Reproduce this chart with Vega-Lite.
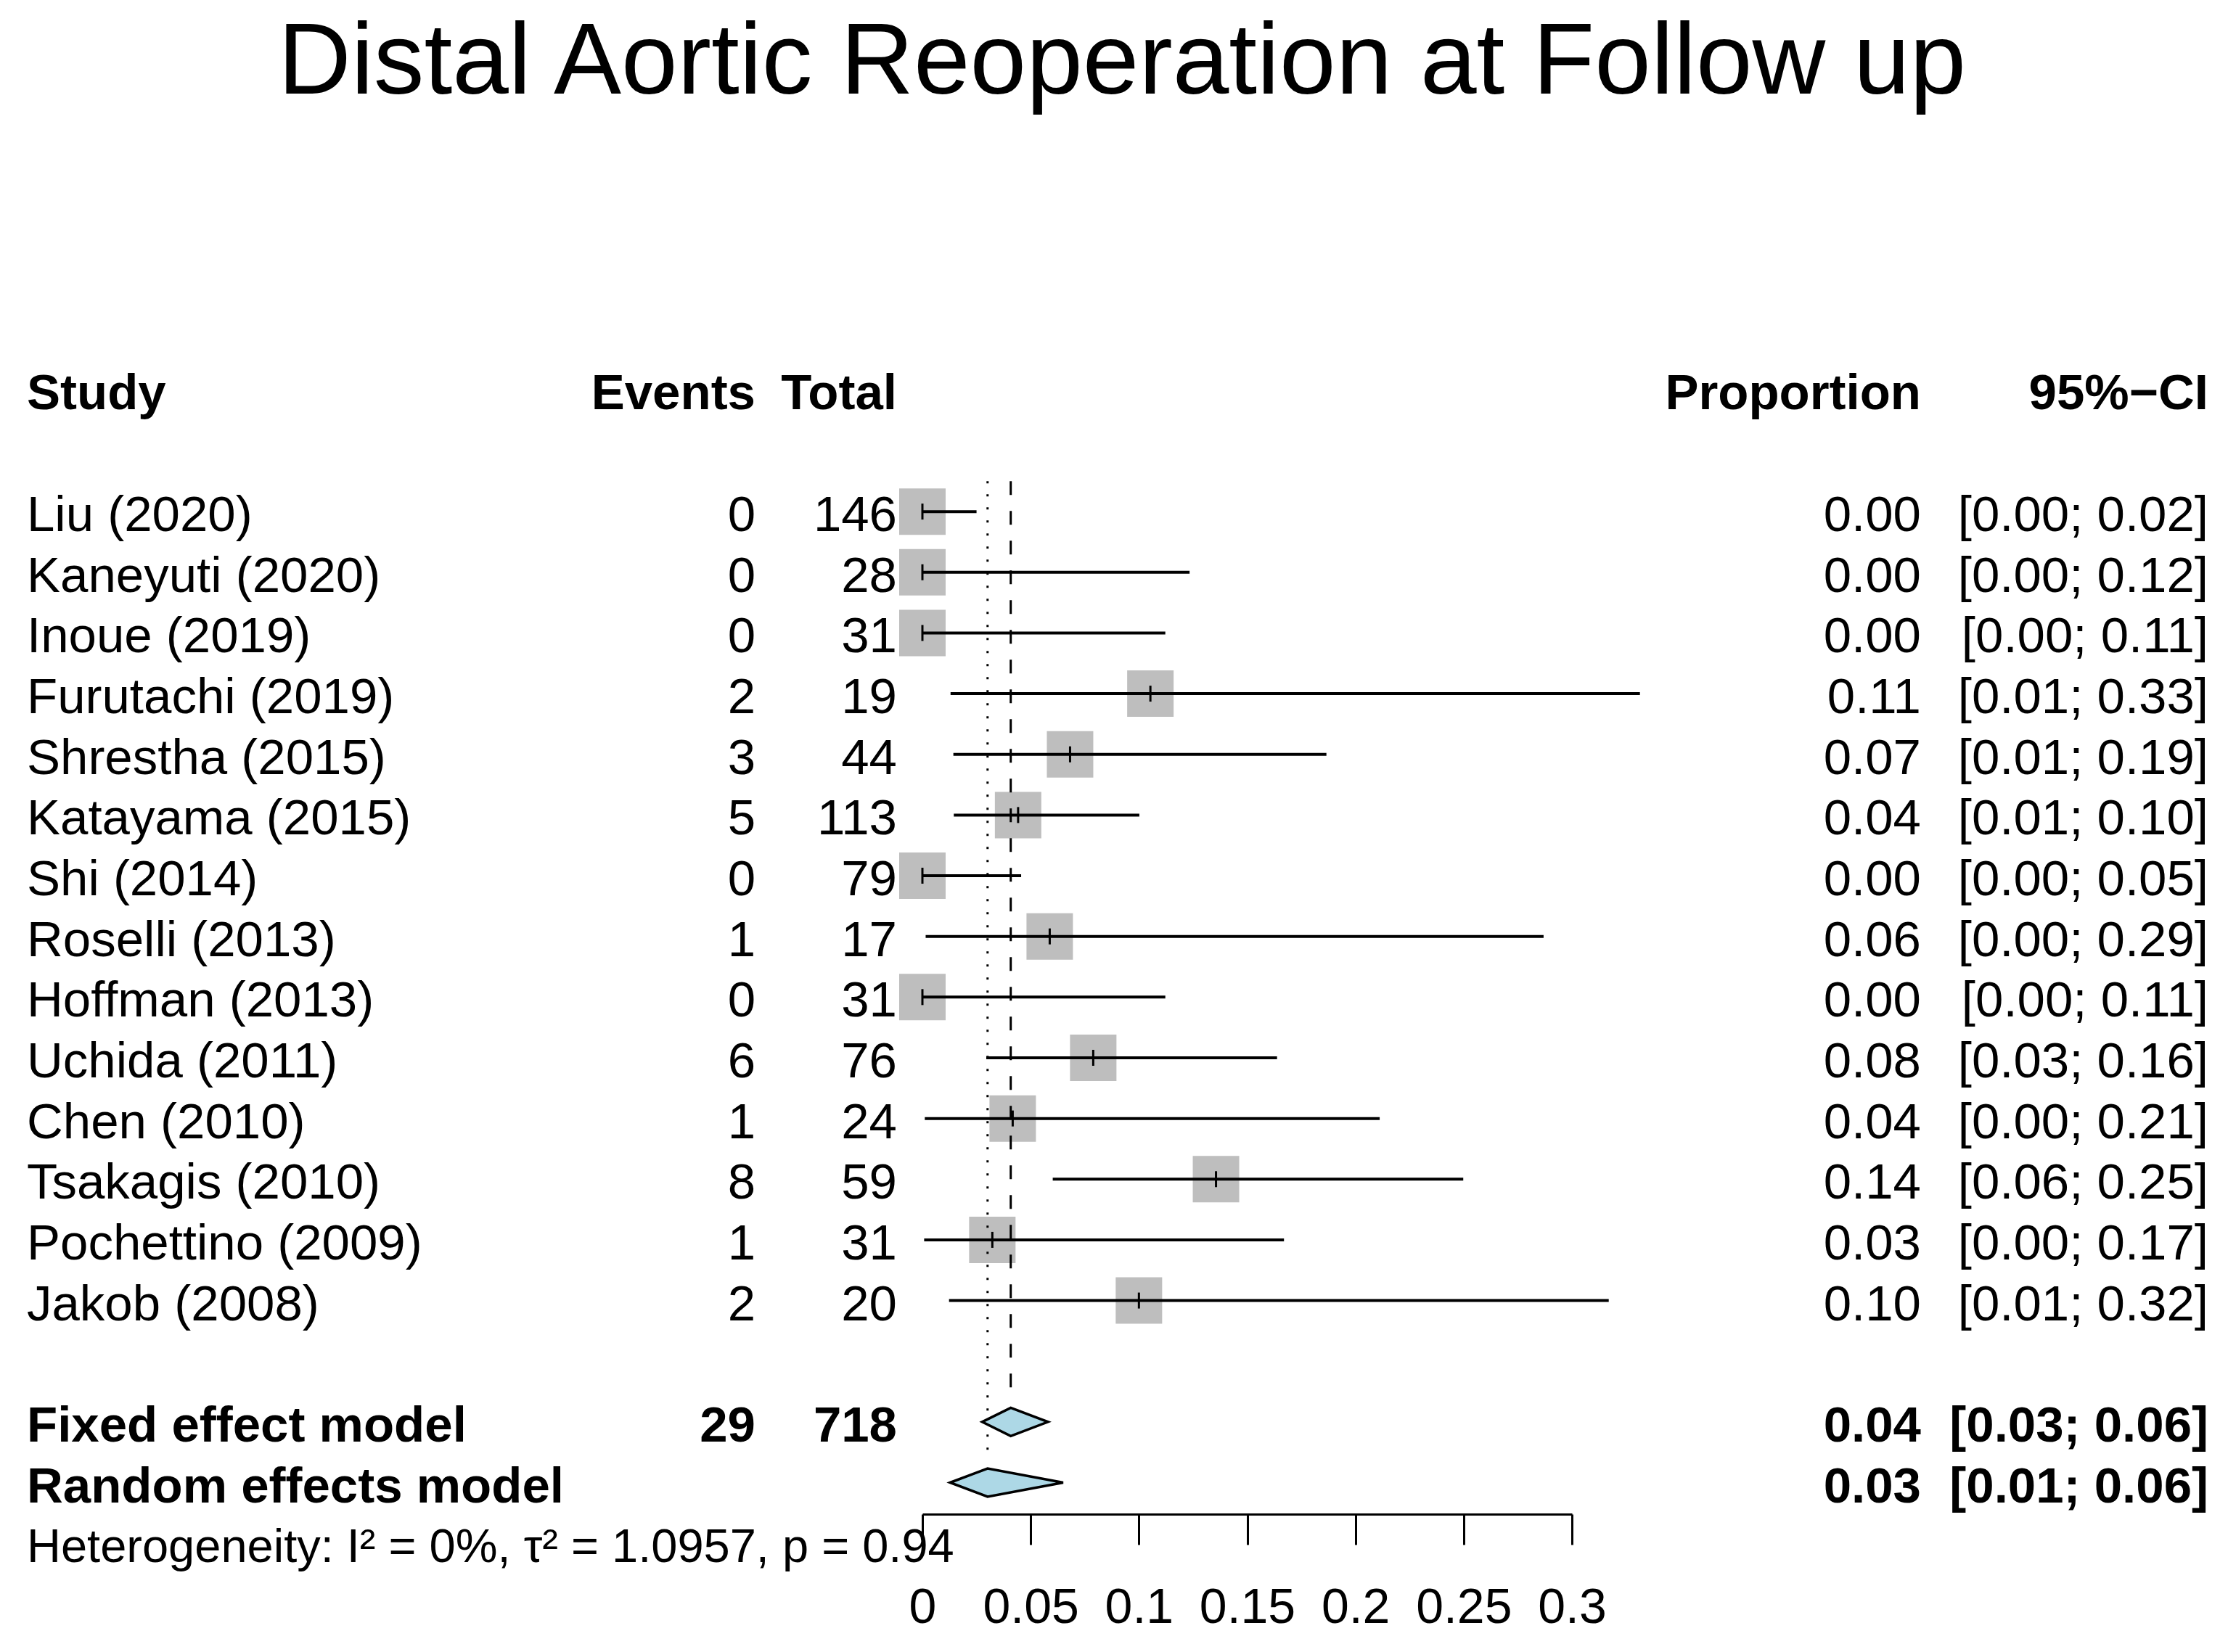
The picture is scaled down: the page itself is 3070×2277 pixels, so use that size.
{
  "$schema": "https://vega.github.io/schema/vega-lite/v6.json",
  "background": "white",
  "padding": {"left": 37, "top": 16, "right": 0, "bottom": 0},
  "bounds": "flush",
  "spacing": 35,
  "title": {"text": "Distal Aortic Reoperation at Follow up", "fontSize": 139.5, "font": "Liberation Sans", "fontWeight": "normal", "color": "black", "anchor": "start", "frame": "group", "dx": 346, "offset": 338},
  "config": {"view": {"stroke": null}, "text": {"font": "Liberation Sans", "fontSize": 69, "color": "black"}, "axis": {"labelFont": "Liberation Sans"}},
  "datasets": {
    "studies": [
      {"label": "Liu (2020)", "events": 0, "total": 146, "prop": 0.0, "lo": 0.0, "hi": 0.0250, "ci": "[0.00; 0.02]"},
      {"label": "Kaneyuti (2020)", "events": 0, "total": 28, "prop": 0.0, "lo": 0.0, "hi": 0.1234, "ci": "[0.00; 0.12]"},
      {"label": "Inoue (2019)", "events": 0, "total": 31, "prop": 0.0, "lo": 0.0, "hi": 0.1122, "ci": "[0.00; 0.11]"},
      {"label": "Furutachi (2019)", "events": 2, "total": 19, "prop": 0.1053, "lo": 0.0130, "hi": 0.3314, "ci": "[0.01; 0.33]"},
      {"label": "Shrestha (2015)", "events": 3, "total": 44, "prop": 0.0682, "lo": 0.0143, "hi": 0.1866, "ci": "[0.01; 0.19]"},
      {"label": "Katayama (2015)", "events": 5, "total": 113, "prop": 0.0442, "lo": 0.0145, "hi": 0.1002, "ci": "[0.01; 0.10]"},
      {"label": "Shi (2014)", "events": 0, "total": 79, "prop": 0.0, "lo": 0.0, "hi": 0.0456, "ci": "[0.00; 0.05]"},
      {"label": "Roselli (2013)", "events": 1, "total": 17, "prop": 0.0588, "lo": 0.0015, "hi": 0.2869, "ci": "[0.00; 0.29]"},
      {"label": "Hoffman (2013)", "events": 0, "total": 31, "prop": 0.0, "lo": 0.0, "hi": 0.1122, "ci": "[0.00; 0.11]"},
      {"label": "Uchida (2011)", "events": 6, "total": 76, "prop": 0.0789, "lo": 0.0295, "hi": 0.1638, "ci": "[0.03; 0.16]"},
      {"label": "Chen (2010)", "events": 1, "total": 24, "prop": 0.0417, "lo": 0.0011, "hi": 0.2112, "ci": "[0.00; 0.21]"},
      {"label": "Tsakagis (2010)", "events": 8, "total": 59, "prop": 0.1356, "lo": 0.0602, "hi": 0.2498, "ci": "[0.06; 0.25]"},
      {"label": "Pochettino (2009)", "events": 1, "total": 31, "prop": 0.0323, "lo": 0.0008, "hi": 0.1670, "ci": "[0.00; 0.17]"},
      {"label": "Jakob (2008)", "events": 2, "total": 20, "prop": 0.1000, "lo": 0.0123, "hi": 0.3170, "ci": "[0.01; 0.32]"}
    ],
    "models": [
      {"label": "Fixed effect model", "events": 29, "total": 718, "prop": 0.0408, "lo": 0.0276, "hi": 0.0580, "ci": "[0.03; 0.06]"},
      {"label": "Random effects model", "events": null, "total": null, "prop": 0.0301, "lo": 0.0128, "hi": 0.0650, "ci": "[0.01; 0.06]"}
    ],
    "diamond": [
      {"label": "Fixed effect model", "value": 0.0276, "level": "mid"},
      {"label": "Fixed effect model", "value": 0.0408, "level": "top"},
      {"label": "Fixed effect model", "value": 0.0580, "level": "mid"},
      {"label": "Fixed effect model", "value": 0.0408, "level": "bottom"},
      {"label": "Random effects model", "value": 0.0128, "level": "mid"},
      {"label": "Random effects model", "value": 0.0301, "level": "top"},
      {"label": "Random effects model", "value": 0.0650, "level": "mid"},
      {"label": "Random effects model", "value": 0.0301, "level": "bottom"}
    ],
    "header": [
      {"label": "hdr", "study": "Study", "events": "Events", "total": "Total", "prop": "Proportion", "ci": "95%−CI"}
    ],
    "het": [
      {"label": "het", "text": "Heterogeneity: I² = 0%, τ² = 1.0957, p = 0.94"}
    ],
    "pooled": [
      {"model": "Fixed effect model", "est": 0.0408, "from": "Liu (2020)"},
      {"model": "Random effects model", "est": 0.0301, "from": "Liu (2020)"}
    ]
  },
  "hconcat": [
    {
      "width": 1004, "height": 1673,
      "layer": [
        {"data": {"name": "studies"}, "mark": {"type": "text", "align": "left", "x": 0, "dy": 6},
         "encoding": {"y": {"field": "label", "type": "nominal", "axis": null, "scale": {"type": "band", "paddingInner": 0, "paddingOuter": 0, "domain": ["hdr","gap1","Liu (2020)","Kaneyuti (2020)","Inoue (2019)","Furutachi (2019)","Shrestha (2015)","Katayama (2015)","Shi (2014)","Roselli (2013)","Hoffman (2013)","Uchida (2011)","Chen (2010)","Tsakagis (2010)","Pochettino (2009)","Jakob (2008)","gap2","Fixed effect model","Random effects model","het"]}},
                      "text": {"field": "label"}}},
        {"data": {"name": "models"}, "mark": {"type": "text", "align": "left", "x": 0, "dy": 6, "fontWeight": "bold"},
         "encoding": {"y": {"field": "label", "type": "nominal"}, "text": {"field": "label"}}},
        {"data": {"name": "header"}, "mark": {"type": "text", "align": "left", "x": 0, "dy": 5, "fontWeight": "bold"},
         "encoding": {"y": {"field": "label", "type": "nominal"}, "text": {"field": "study"}}},
        {"data": {"name": "het"}, "mark": {"type": "text", "align": "left", "x": 0, "dy": 6, "fontSize": 65},
         "encoding": {"y": {"field": "label", "type": "nominal"}, "text": {"field": "text"}}},
        {"data": {"name": "studies"}, "mark": {"type": "text", "align": "right", "x": "width", "dy": 6},
         "encoding": {"y": {"field": "label", "type": "nominal"}, "text": {"field": "events", "type": "quantitative"}}},
        {"data": {"name": "models"}, "transform": [{"filter": "isValid(datum.events)"}], "mark": {"type": "text", "align": "right", "x": "width", "dy": 6, "fontWeight": "bold"},
         "encoding": {"y": {"field": "label", "type": "nominal"}, "text": {"field": "events", "type": "quantitative"}}},
        {"data": {"name": "header"}, "mark": {"type": "text", "align": "right", "x": "width", "dy": 5, "fontWeight": "bold"},
         "encoding": {"y": {"field": "label", "type": "nominal"}, "text": {"field": "events"}}}
      ]
    },
    {
      "width": 160, "height": 1673,
      "layer": [
        {"data": {"name": "studies"}, "mark": {"type": "text", "align": "right", "x": "width", "dy": 6},
         "encoding": {"y": {"field": "label", "type": "nominal", "axis": null, "scale": {"type": "band", "paddingInner": 0, "paddingOuter": 0, "domain": ["hdr","gap1","Liu (2020)","Kaneyuti (2020)","Inoue (2019)","Furutachi (2019)","Shrestha (2015)","Katayama (2015)","Shi (2014)","Roselli (2013)","Hoffman (2013)","Uchida (2011)","Chen (2010)","Tsakagis (2010)","Pochettino (2009)","Jakob (2008)","gap2","Fixed effect model","Random effects model","het"]}},
                      "text": {"field": "total", "type": "quantitative"}}},
        {"data": {"name": "models"}, "transform": [{"filter": "isValid(datum.total)"}], "mark": {"type": "text", "align": "right", "x": "width", "dy": 6, "fontWeight": "bold"},
         "encoding": {"y": {"field": "label", "type": "nominal"}, "text": {"field": "total", "type": "quantitative"}}},
        {"data": {"name": "header"}, "mark": {"type": "text", "align": "right", "x": "width", "dy": 5, "fontWeight": "bold"},
         "encoding": {"y": {"field": "label", "type": "nominal"}, "text": {"field": "total"}}}
      ]
    },
    {
      "width": 895, "height": 1673,
      "layer": [
        {"data": {"name": "studies"}, "mark": {"type": "square", "size": 4096, "color": "#BEBEBE", "opacity": 1},
         "encoding": {
           "x": {"field": "prop", "type": "quantitative", "scale": {"domain": [0, 0.3], "nice": false, "zero": false},
                 "axis": {"orient": "bottom", "offset": -82, "values": [0, 0.05, 0.1, 0.15, 0.2, 0.25, 0.3], "format": "~g", "title": null, "grid": false,
                          "domainColor": "black", "domainWidth": 3, "tickColor": "black", "tickWidth": 3, "tickSize": 42,
                          "labelFontSize": 68, "labelColor": "black", "labelPadding": 53, "labelFlush": false, "labelOverlap": false, "labelBaseline": "top"}},
           "y": {"field": "label", "type": "nominal", "axis": null, "scale": {"type": "band", "paddingInner": 0, "paddingOuter": 0, "domain": ["hdr","gap1","Liu (2020)","Kaneyuti (2020)","Inoue (2019)","Furutachi (2019)","Shrestha (2015)","Katayama (2015)","Shi (2014)","Roselli (2013)","Hoffman (2013)","Uchida (2011)","Chen (2010)","Tsakagis (2010)","Pochettino (2009)","Jakob (2008)","gap2","Fixed effect model","Random effects model","het"]}}
         }},
        {"data": {"name": "pooled"}, "transform": [{"filter": "datum.model == 'Fixed effect model'"}],
         "mark": {"type": "rule", "color": "black", "strokeWidth": 3, "strokeDash": [19, 22]},
         "encoding": {"x": {"field": "est", "type": "quantitative"},
                      "y": {"field": "from", "type": "nominal", "bandPosition": 0},
                      "y2": {"field": "model", "bandPosition": 0}}},
        {"data": {"name": "pooled"}, "transform": [{"filter": "datum.model == 'Random effects model'"}],
         "mark": {"type": "rule", "color": "black", "strokeWidth": 3, "strokeDash": [3, 15]},
         "encoding": {"x": {"field": "est", "type": "quantitative"},
                      "y": {"field": "from", "type": "nominal", "bandPosition": 0},
                      "y2": {"field": "model", "bandPosition": 0}}},
        {"data": {"name": "studies"}, "mark": {"type": "rule", "color": "black", "strokeWidth": 4},
         "encoding": {"x": {"field": "lo", "type": "quantitative"}, "x2": {"field": "hi"}, "y": {"field": "label", "type": "nominal"}}},
        {"data": {"name": "studies"}, "mark": {"type": "tick", "color": "black", "size": 22, "thickness": 3, "opacity": 1, "orient": "vertical"},
         "encoding": {"x": {"field": "prop", "type": "quantitative"}, "y": {"field": "label", "type": "nominal"}}},
        {"data": {"name": "diamond"}, "mark": {"type": "line", "interpolate": "linear-closed", "fill": "#ADD8E6", "stroke": "black", "strokeWidth": 3.5, "strokeJoin": "miter"},
         "encoding": {"x": {"field": "value", "type": "quantitative"},
                      "y": {"field": "label", "type": "nominal"},
                      "yOffset": {"field": "level", "type": "nominal", "scale": {"type": "point", "padding": 0, "domain": ["top", "mid", "bottom"], "range": [22.3, 61.3]}},
                      "detail": {"field": "label"},
                      "order": {"value": null}}}
      ]
    },
    {
      "width": 446, "height": 1673,
      "layer": [
        {"data": {"name": "studies"}, "mark": {"type": "text", "align": "right", "x": "width", "dy": 6},
         "encoding": {"y": {"field": "label", "type": "nominal", "axis": null, "scale": {"type": "band", "paddingInner": 0, "paddingOuter": 0, "domain": ["hdr","gap1","Liu (2020)","Kaneyuti (2020)","Inoue (2019)","Furutachi (2019)","Shrestha (2015)","Katayama (2015)","Shi (2014)","Roselli (2013)","Hoffman (2013)","Uchida (2011)","Chen (2010)","Tsakagis (2010)","Pochettino (2009)","Jakob (2008)","gap2","Fixed effect model","Random effects model","het"]}},
                      "text": {"field": "prop", "type": "quantitative", "format": ".2f"}}},
        {"data": {"name": "models"}, "mark": {"type": "text", "align": "right", "x": "width", "dy": 6, "fontWeight": "bold"},
         "encoding": {"y": {"field": "label", "type": "nominal"}, "text": {"field": "prop", "type": "quantitative", "format": ".2f"}}},
        {"data": {"name": "header"}, "mark": {"type": "text", "align": "right", "x": "width", "dy": 5, "fontWeight": "bold"},
         "encoding": {"y": {"field": "label", "type": "nominal"}, "text": {"field": "prop"}}}
      ]
    },
    {
      "width": 361, "height": 1673,
      "layer": [
        {"data": {"name": "studies"}, "mark": {"type": "text", "align": "right", "x": "width", "dy": 6},
         "encoding": {"y": {"field": "label", "type": "nominal", "axis": null, "scale": {"type": "band", "paddingInner": 0, "paddingOuter": 0, "domain": ["hdr","gap1","Liu (2020)","Kaneyuti (2020)","Inoue (2019)","Furutachi (2019)","Shrestha (2015)","Katayama (2015)","Shi (2014)","Roselli (2013)","Hoffman (2013)","Uchida (2011)","Chen (2010)","Tsakagis (2010)","Pochettino (2009)","Jakob (2008)","gap2","Fixed effect model","Random effects model","het"]}},
                      "text": {"field": "ci"}}},
        {"data": {"name": "models"}, "mark": {"type": "text", "align": "right", "x": "width", "dy": 6, "fontWeight": "bold"},
         "encoding": {"y": {"field": "label", "type": "nominal"}, "text": {"field": "ci"}}},
        {"data": {"name": "header"}, "mark": {"type": "text", "align": "right", "x": "width", "dy": 5, "fontWeight": "bold"},
         "encoding": {"y": {"field": "label", "type": "nominal"}, "text": {"field": "ci"}}}
      ]
    }
  ]
}
